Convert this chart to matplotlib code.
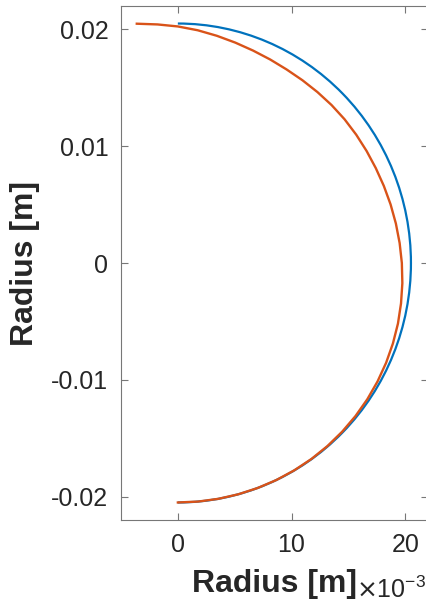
import matplotlib
matplotlib.use("Agg")
import matplotlib.pyplot as plt
from matplotlib.patches import Arc
import numpy as np

plt.rcParams['font.family'] = ['Liberation Sans', 'DejaVu Sans']
plt.rcParams['axes.unicode_minus'] = False

# perfil inicial (azul): semicirculo, radio [m]
radio_azul = 0.0205

# perfil deformado (naranja) en polares: angulo [grados] y radio [m]
ang_naranja = [100, 95, 90, 85, 80, 75, 70, 65, 60, 55, 50, 45, 40, 35, 30, 25, 20, 15, 10, 5, 0,
               -5, -10, -15, -20, -25, -30, -35, -40, -45, -50, -55, -60, -65, -70, -75, -80,
               -85, -90]
r_naranja = [0.02080, 0.02050, 0.02025, 0.02000, 0.01975, 0.01953, 0.01935, 0.01922, 0.01913,
             0.01910, 0.01910, 0.01912, 0.01914, 0.01915, 0.01917, 0.01921, 0.01928, 0.01937,
             0.01947, 0.01958, 0.01970, 0.01982, 0.01993, 0.02004, 0.02013, 0.02021, 0.02028,
             0.02034, 0.02039, 0.02043, 0.02046, 0.02048, 0.02049, 0.02050, 0.02050, 0.02050,
             0.02050, 0.02050, 0.02050]

x_ticks = [0.0, 0.01, 0.02]
x_labels = ['0', '10', '20']
y_ticks = [-0.02, -0.01, 0.0, 0.01, 0.02]
y_labels = ['-0.02', '-0.01', '0', '0.01', '0.02']

W, H = 427, 610
fig = plt.figure(figsize=(W / 100, H / 100), dpi=100)
ax = fig.add_axes([121 / W, 90 / H, (428 - 121) / W, 514 / H])

ax.add_patch(Arc((0, 0), 2 * radio_azul, 2 * radio_azul, theta1=-90, theta2=90,
                 color='#0072BD', lw=1.6))
t = np.radians(ang_naranja)
r = np.array(r_naranja)
ax.plot(r * np.cos(t), r * np.sin(t), color='#D95319', lw=1.7)

ax.set_xlim(-0.005, 0.022)
ax.set_ylim(-0.022, 0.022)
ax.set_xticks(x_ticks)
ax.set_xticklabels(x_labels)
ax.set_yticks(y_ticks)
ax.set_yticklabels(y_labels)

gris = '#262626'
for s in ax.spines.values():
    s.set_color('#777777')
    s.set_linewidth(0.8)
ax.tick_params(direction='in', length=5, width=0.8, color='#777777',
               labelsize=18, labelcolor=gris, top=True, right=True, pad=9)

ax.set_xlabel('Radius [m]', fontsize=23, fontweight='bold', color=gris, labelpad=9)
ax.set_ylabel('Radius [m]', fontsize=23, fontweight='bold', color=gris, labelpad=8)
fig.text(356 / W, 1 - 590 / H, r'$\times$10$^{\mathregular{-3}}$', fontsize=18,
         color=gris, va='center', ha='left')

fig.savefig('out.png', dpi=100, facecolor='white')
